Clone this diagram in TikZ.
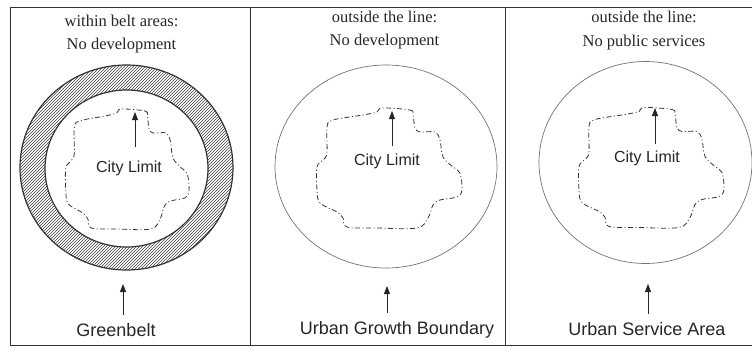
\documentclass[tikz,border=0pt]{standalone}
\usepackage{fontspec}
\setmainfont{Liberation Serif}
\setsansfont{Liberation Sans}
\usetikzlibrary{positioning,arrows.meta,patterns}

\tikzset{
  note/.style={font=\fontsize{16.5}{23.5}\selectfont, align=center, inner sep=0pt, text=black!85},
  tag/.style={font=\sffamily\fontsize{18}{20}\selectfont, inner sep=1pt, text=black!85},
  city/.style={font=\sffamily\fontsize{16}{18}\selectfont, inner sep=1pt, text=black!85},
  pointer/.style={-{Triangle[length=8pt,width=6pt]}, line width=0.8pt, black!85},
  limit/.style={draw=black!80, line width=0.8pt, dash pattern=on 5pt off 2.5pt on 1pt off 2.5pt},
  boundary/.style={draw=black!55, line width=0.7pt},
  belt/.style={draw=black!80, line width=1.2pt},
  frame/.style={draw=black!80, line width=0.8pt}
}

% wavy city limit, centred on (0,0)
\newcommand{\citylimit}{plot[smooth cycle, tension=0.55] coordinates {
  (-7,-60) (21,-58) (24,-53) (26,-40) (31,-36) (46,-36) (51,-28) (54,-11)
  (64,-1) (71,5) (73,22) (68,29) (51,32) (44,37) (39,50) (28,60)
  (-12,60) (-42,59) (-46,50) (-52,44) (-69,35) (-72,22) (-72,-1) (-66,-8)
  (-62,-15) (-62,-41) (-56,-48) (-26,-53) (-12,-56)}}

\begin{document}
\begin{tikzpicture}[x=1pt, y=-1pt]
\useasboundingbox (0,0) rectangle (752,353);

% frame and dividers
\draw[frame] (10,7) rectangle (770,345);
\draw[frame] (250,7) -- (250,345);
\draw[frame] (505,7) -- (505,345);

% greenbelt ring
\fill[pattern=north east lines, pattern color=black!75, even odd rule]
  (126.5,167.5) ellipse [x radius=106.5, y radius=102.5]
  (126.5,168.5) ellipse [x radius=81.5, y radius=78.5];
\draw[belt] (126.5,167.5) ellipse [x radius=106.5, y radius=102.5];
\draw[belt] (126.5,168.5) ellipse [x radius=81.5, y radius=78.5];

% boundaries
\draw[boundary] (386,166.5) ellipse [x radius=111, y radius=101.5];
\draw[boundary] (645.5,162.5) ellipse [x radius=106.5, y radius=101];

% city limits
\begin{scope}[shift={(127,169)}, xscale=0.85]
  \draw[limit] \citylimit;
\end{scope}
\begin{scope}[shift={(389,168)}]
  \draw[limit] \citylimit;
\end{scope}
\begin{scope}[shift={(651,167.5)}]
  \draw[limit] \citylimit;
\end{scope}

% top notes (base = last line)
\node[note, anchor=base] (n1) at (121.5,49.5) {within belt areas:\\No development};
\node[note, anchor=base] (n2) at (384.5,45.5) {outside the line:\\No development};
\node[note, anchor=base] (n3) at (644,46.5) {outside the line:\\No public services};

% city limit labels
\node[city, anchor=base] (cl1) at (129,172) {City Limit};
\node[city, anchor=base] (cl2) at (387,165) {City Limit};
\node[city, anchor=base] (cl3) at (647,162) {City Limit};
\coordinate (cl1tip) at (135,112);
\coordinate (cl2tip) at (392,111);
\coordinate (cl3tip) at (655,108);
\draw[pointer, shorten <=12pt] (cl1.north -| cl1tip) -- (cl1tip);
\draw[pointer, shorten <=6pt] (cl2.north -| cl2tip) -- (cl2tip);
\draw[pointer, shorten <=5pt] (cl3.north -| cl3tip) -- (cl3tip);

% bottom labels
\node[tag, anchor=base] (gb) at (116,336) {Greenbelt};
\node[tag, anchor=base] (ugb) at (397,334) {Urban Growth Boundary};
\node[tag, anchor=base] (usa) at (647,335) {Urban Service Area};
\coordinate (gbtip) at (123,284);
\coordinate (ugbtip) at (387,286);
\coordinate (usatip) at (648,284);
\draw[pointer, shorten <=7pt] (gb.north -| gbtip) -- (gbtip);
\draw[pointer, shorten <=7pt] (ugb.north -| ugbtip) -- (ugbtip);
\draw[pointer, shorten <=7pt] (usa.north -| usatip) -- (usatip);
\end{tikzpicture}
\end{document}
